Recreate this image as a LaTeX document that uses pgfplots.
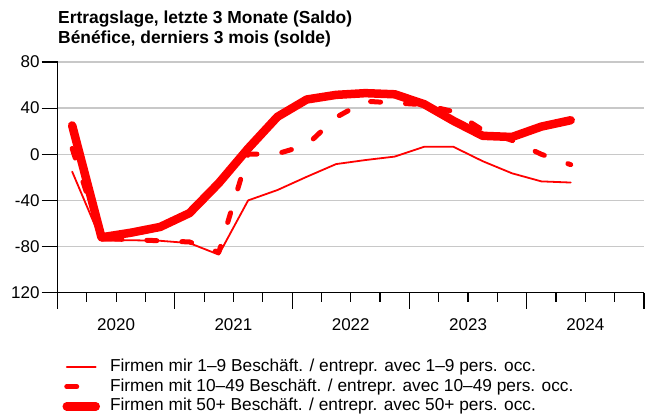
\documentclass[border=0pt]{standalone}
\usepackage{fontspec}
\setmainfont{Liberation Sans}
\usepackage{pgfplots}
\pgfplotsset{compat=1.18}
\definecolor{gridgray}{RGB}{200,200,200}
\definecolor{snbred}{RGB}{255,0,0}
\begin{document}
\begin{tikzpicture}
\begin{axis}[
  at={(0,0)}, anchor=south west,
  scale only axis, width=586.5bp, height=230.7bp,
  xmin=2020, xmax=2025, ymin=-120, ymax=80,
  axis x line*=bottom, axis y line*=left,
  xtick={2020,2021,2022,2023,2024,2025},
  x tick label as interval,
  xticklabels={2020,2021,2022,2023,2024},
  minor x tick num=3,
  ytick={-120,-80,-40,0,40,80},
  yticklabels={120,-80,-40,0,40,80},
  ymajorgrids, grid style={gridgray, line width=1.3bp},
  tick align=outside,
  major tick length=16bp, minor tick length=9bp,
  every tick/.style={black, line width=1.2bp},
  every minor tick/.style={black, line width=1.2bp},
  axis line style={black, line width=1.2bp},
  ticklabel style={font=\fontsize{17bp}{20bp}\selectfont},
  xticklabel style={yshift=-6bp},
  yticklabel style={xshift=1.5bp},
  /pgf/number format/assume math mode=true,
  legend style={at={(0,0)}, anchor=north west, xshift=5bp, yshift=-65.6bp,
    draw=none, fill=none, inner sep=0pt, outer sep=0pt, row sep=2.8bp,
    font=\fontsize{17.3bp}{19bp}\selectfont,
    nodes={inner sep=0pt, text height=13bp, text depth=4bp},
    /tikz/every odd column/.append style={column sep=10bp}},
  legend cell align=left,
  legend image code/.code={\draw[#1] (0bp,0bp) -- (29bp,0bp);},
]
\addplot[snbred, line width=1.8bp, line join=round, line cap=round] coordinates {
(2020.125,-15) (2020.375,-75) (2020.625,-74.5) (2020.875,-75) (2021.125,-77) (2021.375,-87)
(2021.625,-40) (2021.875,-31) (2022.125,-19.5) (2022.375,-8.5) (2022.625,-5) (2022.875,-2)
(2023.125,6.5) (2023.375,6.5) (2023.625,-6) (2023.875,-16.5) (2024.125,-23.5) (2024.375,-24.5)};
\addlegendentry{Firmen mir 1–9 Beschäft. / entrepr. avec 1–9 pers. occ.}
\addplot[snbred, line width=5bp, line join=round, line cap=round, dash pattern=on 10bp off 25bp] coordinates {
(2020.125,5) (2020.375,-73) (2020.625,-74) (2020.875,-75) (2021.125,-76) (2021.375,-85)
(2021.625,0) (2021.875,0.5) (2022.125,8) (2022.375,32) (2022.625,46) (2022.875,44.5)
(2023.125,43) (2023.375,37) (2023.625,21) (2023.875,12) (2024.125,0) (2024.375,-9)};
\addlegendentry{Firmen mit 10–49 Beschäft. / entrepr. avec 10–49 pers. occ.}
\addplot[snbred, line width=8.5bp, line join=round, line cap=round] coordinates {
(2020.125,25) (2020.375,-72) (2020.625,-68) (2020.875,-63) (2021.125,-51) (2021.375,-25)
(2021.625,5) (2021.875,32.5) (2022.125,47.5) (2022.375,51.5) (2022.625,53) (2022.875,52)
(2023.125,43.5) (2023.375,29) (2023.625,16) (2023.875,15) (2024.125,24) (2024.375,29.5)};
\addlegendentry{Firmen mit 50+ Beschäft. / entrepr. avec 50+ pers. occ.}
\end{axis}
\node[anchor=base west, inner sep=0pt, font=\bfseries\fontsize{17.4bp}{20bp}\selectfont] at (0.5bp,268.7bp) {Ertragslage, letzte 3 Monate (Saldo)};
\node[anchor=base west, inner sep=0pt, font=\bfseries\fontsize{17.4bp}{20bp}\selectfont] at (0.5bp,248.7bp) {Bénéfice, derniers 3 mois (solde)};
\pgfresetboundingbox
\path[use as bounding box] (-57.5bp,-121.3bp) rectangle (594.5bp,292.7bp);
\end{tikzpicture}
\end{document}
